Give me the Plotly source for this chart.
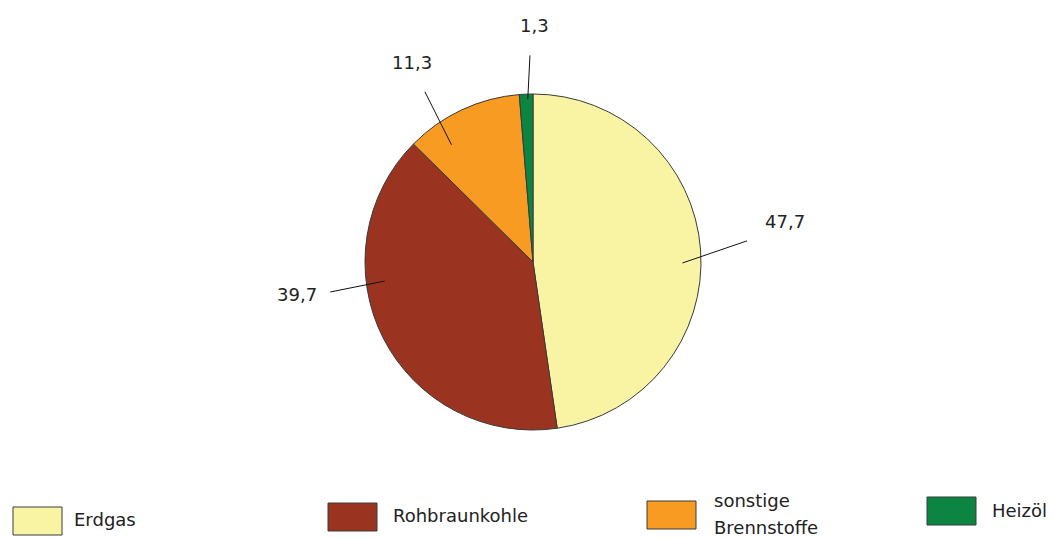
import math
import plotly.graph_objects as go

# Data
sources = ["Erdgas", "Rohbraunkohle", "sonstige Brennstoffe", "Heizöl"]
shares = [47.7, 39.7, 11.3, 1.3]
value_labels = ["47,7", "39,7", "11,3", "1,3"]
colors = ["#F9F4A3", "#9A3421", "#F79B22", "#0C8442"]

# figure geometry (pixels)
W, H = 1051, 538
cx, cy, R = 533, 262, 168


def px(x):
    return x / W


def py(y):
    return 1 - y / H


def polar(deg, r):
    # angle measured clockwise from 12 o'clock
    a = math.radians(deg)
    return cx + r * R * math.sin(a), cy - r * R * math.cos(a)


# leader line / label placement relative to the slice mid angle
line_in = [(4.5, 0.89), (19.5, 0.89), (-9.8, 0.85), (0.5, 0.97)]
line_out = [(-1.5, 1.28), (18.4, 1.22), (-7.4, 1.20), (1.5, 1.23)]
text_pos = [(-4.9, 1.52), (19.1, 1.42), (-6.3, 1.39), (2.8, 1.41)]

# legend layout
leg_x = [13, 328, 647, 927]
leg_y = [507, 503, 501, 497]
leg_text_x = [72, 391, 712, 990]
leg_lines = [["Erdgas"], ["Rohbraunkohle"], ["sonstige", "Brennstoffe"], ["Heizöl"]]
leg_text_y = [[519], [515], [501, 527], [510]]

fig = go.Figure()
fig.add_trace(go.Pie(
    labels=sources,
    values=shares,
    sort=False,
    direction="clockwise",
    rotation=0,
    textinfo="none",
    hoverinfo="label+value",
    marker=dict(colors=colors, line=dict(color="#3a3a3a", width=1)),
    domain=dict(x=[px(cx - R), px(cx + R)], y=[py(cy + R), py(cy - R)]),
    showlegend=False,
))

shapes = []
annotations = []
total = sum(shares)
cum = 0
for i, v in enumerate(shares):
    mid = (cum + v / 2) / total * 360
    cum += v
    x0, y0 = polar(mid + line_in[i][0], line_in[i][1])
    x1, y1 = polar(mid + line_out[i][0], line_out[i][1])
    shapes.append(dict(type="line", xref="paper", yref="paper",
                       x0=px(x0), y0=py(y0), x1=px(x1), y1=py(y1),
                       line=dict(color="#111111", width=1)))
    tx, ty = polar(mid + text_pos[i][0], text_pos[i][1])
    annotations.append(dict(x=px(tx), y=py(ty), xref="paper", yref="paper",
                            text=value_labels[i], showarrow=False,
                            xanchor="center", yanchor="middle",
                            font=dict(size=18, color="#222222")))

# legend drawn by hand to get the large swatches
for i in range(len(sources)):
    shapes.append(dict(type="rect", xref="paper", yref="paper",
                       x0=px(leg_x[i]), x1=px(leg_x[i] + 49),
                       y0=py(leg_y[i] + 28), y1=py(leg_y[i]),
                       fillcolor=colors[i], line=dict(color="#3a3a3a", width=1)))
    for line, ly in zip(leg_lines[i], leg_text_y[i]):
        annotations.append(dict(x=px(leg_text_x[i]), y=py(ly), xref="paper", yref="paper",
                                text=line, showarrow=False,
                                xanchor="left", yanchor="middle",
                                font=dict(size=18, color="#222222")))

fig.update_layout(
    width=W,
    height=H,
    margin=dict(l=0, r=0, t=0, b=0),
    paper_bgcolor="white",
    plot_bgcolor="white",
    font=dict(family="DejaVu Sans, Arial, sans-serif", color="#222222"),
    shapes=shapes,
    annotations=annotations,
)

# page margin off so the figure sits at the window's top-left corner
fig.write_html("out.html", config={"displayModeBar": False},
               post_script="document.body.style.margin='0';")
